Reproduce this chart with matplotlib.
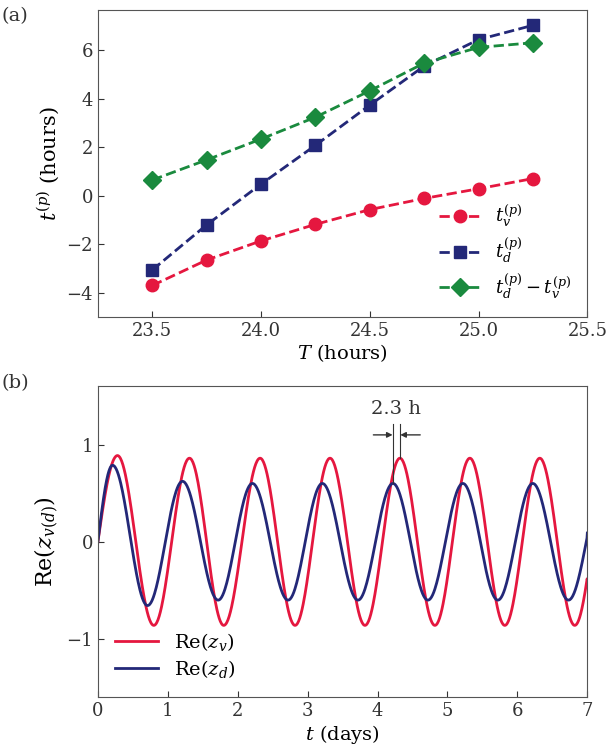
import numpy as np
import matplotlib
matplotlib.use("Agg")
import matplotlib.pyplot as plt

plt.rcParams['font.family'] = ['DejaVu Serif']
plt.rcParams['mathtext.fontset'] = 'dejavuserif'

# panel (a) data
T = [23.5, 23.75, 24.0, 24.25, 24.5, 24.75, 25.0, 25.25]
t_v = [-3.70, -2.65, -1.86, -1.18, -0.57, -0.11, 0.29, 0.71]
t_d = [-3.06, -1.20, 0.48, 2.08, 3.74, 5.35, 6.44, 7.03]
t_diff = [0.65, 1.48, 2.34, 3.24, 4.33, 5.47, 6.12, 6.31]

# panel (b): extrema (time in days, value)
zv_t = [0.0, 0.28, 0.80, 1.31, 1.80, 2.32, 2.82, 3.32, 3.82, 4.32, 4.82, 5.32, 5.82, 6.32, 6.82, 7.0]
zv_y = [0.0, 0.887, -0.86, 0.86, -0.86, 0.86, -0.86, 0.86, -0.86, 0.86, -0.86, 0.86, -0.86, 0.86, -0.86, -0.39]
zd_t = [0.0, 0.21, 0.71, 1.21, 1.72, 2.21, 2.72, 3.21, 3.72, 4.22, 4.72, 5.22, 5.72, 6.22, 6.73, 7.0]
zd_y = [0.0, 0.787, -0.656, 0.622, -0.60, 0.60, -0.60, 0.60, -0.60, 0.60, -0.60, 0.60, -0.60, 0.60, -0.60, 0.09]

RED = '#e5173f'
BLUE = '#232878'
GREEN = '#1a8a3e'
FRAME = '#555555'


def halfwave_curve(ts, ys, n=60):
    # join consecutive extrema with cosine half-waves
    xs, out = [], []
    for i in range(len(ts) - 1):
        t0, t1, y0, y1 = ts[i], ts[i + 1], ys[i], ys[i + 1]
        s = np.linspace(0, 1, n, endpoint=False)
        if i == 0:
            # start from a zero crossing, rising to the first peak
            xs.append(t0 + s * (t1 - t0))
            out.append(y1 * np.sin(s * np.pi / 2))
            continue
        if i == len(ts) - 2:
            # last piece: continue the wave up to the end value
            period_half = ts[i] - ts[i - 1]
            ph = (t1 - t0) / period_half * np.pi
            xs.append(t0 + s * (t1 - t0))
            out.append(y0 * np.cos(s * ph))
            continue
        xs.append(t0 + s * (t1 - t0))
        out.append(y1 + (y0 - y1) * (1 + np.cos(s * np.pi)) / 2)
    xs.append([ts[-1]])
    out.append([ys[-1]])
    return np.concatenate(xs), np.concatenate(out)


fig = plt.figure(figsize=(6.08, 7.53), dpi=100)
ax1 = fig.add_axes([0.161, 0.579, 0.805, 0.408])
ax2 = fig.add_axes([0.161, 0.074, 0.805, 0.413])

ax1.plot(T, t_v, '--o', color=RED, lw=2, ms=9, label=r'$t_v^{(p)}$')
ax1.plot(T, t_d, '--s', color=BLUE, lw=2, ms=9, label=r'$t_d^{(p)}$')
ax1.plot(T, t_diff, '--D', color=GREEN, lw=2, ms=9, label=r'$t_d^{(p)}-t_v^{(p)}$')
ax1.set_xlim(23.25, 25.5)
ax1.set_ylim(-5, 7.67)
ax1.set_xticks([23.5, 24.0, 24.5, 25.0, 25.5])
ax1.set_yticks([-4, -2, 0, 2, 4, 6])
ax1.set_xlabel(r'$T$ (hours)', fontsize=14, labelpad=2)
ax1.set_ylabel(r'$t^{(p)}$ (hours)', fontsize=15)
ax1.legend(loc='lower right', frameon=False, fontsize=13, handlelength=2.3,
           labelspacing=0.35, bbox_to_anchor=(1.0, 0.0))

xv, yv = halfwave_curve(zv_t, zv_y)
xd, yd = halfwave_curve(zd_t, zd_y)
ax2.plot(xv, yv, color=RED, lw=2, label=r'Re$(z_v)$')
ax2.plot(xd, yd, color=BLUE, lw=2, label=r'Re$(z_d)$')
ax2.set_xlim(0, 7)
ax2.set_ylim(-1.6, 1.6)
ax2.set_xticks(range(8))
ax2.set_yticks([-1, 0, 1])
ax2.set_xlabel(r'$t$ (days)', fontsize=14, labelpad=2)
ax2.set_ylabel(r'Re$(z_{v(d)})$', fontsize=16)
ax2.legend(loc='lower left', frameon=False, fontsize=14, handlelength=2.2,
           labelspacing=0.25, bbox_to_anchor=(0.0, 0.0))

# 2.3 h lag marker
ax2.plot([4.22, 4.22], [0.60, 1.21], color='#333333', lw=0.8)
ax2.plot([4.32, 4.32], [0.86, 1.21], color='#333333', lw=0.8)
ax2.annotate('', xy=(4.215, 1.10), xytext=(3.94, 1.10),
             arrowprops=dict(arrowstyle='-|>', color='#333333', lw=1,
                             mutation_scale=8, shrinkA=0, shrinkB=0))
ax2.annotate('', xy=(4.325, 1.10), xytext=(4.61, 1.10),
             arrowprops=dict(arrowstyle='-|>', color='#333333', lw=1,
                             mutation_scale=8, shrinkA=0, shrinkB=0))
ax2.text(4.27, 1.37, '2.3 h', ha='center', va='center', fontsize=14, color='#333333')

for ax in (ax1, ax2):
    ax.tick_params(direction='in', labelsize=13, colors='#333333', length=4)
    for sp in ax.spines.values():
        sp.set_color(FRAME)

fig.text(0.003, 0.978, '(a)', fontsize=14, va='center', color='#333333')
fig.text(0.003, 0.491, '(b)', fontsize=14, va='center', color='#333333')

fig.savefig('out.png', dpi=100)
